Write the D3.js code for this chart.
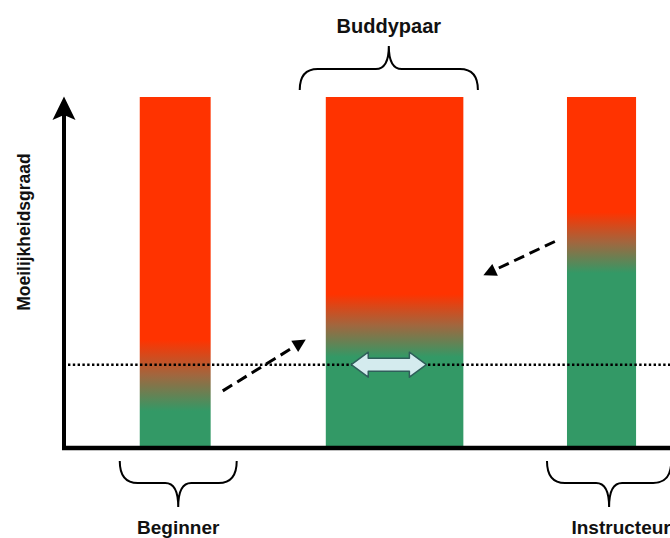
<!DOCTYPE html>
<html>
<head>
<meta charset="utf-8">
<script src="https://cdn.jsdelivr.net/npm/d3@7"></script>
<style>
    body { margin: 0; background: #fff; }
    text { font-family: "Liberation Sans", Arial, sans-serif; font-weight: bold; fill: #111; }
</style>
</head>
<body>
<div id="chart"></div>
<script>
///// DATOS //////
let categories = ['Beginner', 'Buddypaar', 'Instructeur'];
let barStart = [12.5, 43.2, 83.0];    // eje x (0-100)
let barEnd = [24.2, 65.9, 94.4];
let barTop = [100, 100, 100];
let redLevel = [30.5, 43.5, 67.0];    // donde empieza el paso rojo -> verde
let greenLevel = [10.0, 25.5, 49.5];  // donde ya es verde del todo
let lineLevel = 23.3;                 // línea punteada

let braceStart = [9.2, 38.9, 79.7];
let braceEnd = [28.5, 68.3, 100.2];
let braceTop = [false, true, false];

let dashArrows = [
    {x1: 26.2, y1: 15.8, x2: 39.9, y2: 30.5},
    {x1: 81.0, y1: 58.6, x2: 69.2, y2: 48.9}
];
let doubleArrow = {x1: 47.4, x2: 59.8, y: 23.3};

let yLabel = 'Moeilijkheidsgraad';

///// GRÁFICO //////
let W = 670, H = 538;
let red = '#ff3300', green = '#339966';

let svg = d3.select('#chart').append('svg')
    .attr('width', W)
    .attr('height', H);

let x = d3.scaleLinear().domain([0, 100]).range([64, 670]);
let y = d3.scaleLinear().domain([0, 100]).range([446, 97]);

let defs = svg.append('defs');

categories.forEach(function(c, i) {
    let g = defs.append('linearGradient')
        .attr('id', 'grad' + i)
        .attr('gradientUnits', 'userSpaceOnUse')
        .attr('x1', 0).attr('x2', 0)
        .attr('y1', y(redLevel[i]))
        .attr('y2', y(greenLevel[i]));
    g.append('stop').attr('offset', 0).attr('stop-color', red);
    g.append('stop').attr('offset', 0.5).attr('stop-color', '#a0673f');
    g.append('stop').attr('offset', 1).attr('stop-color', green);
});

//Barras
svg.selectAll('rect.bar')
    .data(categories)
    .enter().append('rect')
    .attr('class', 'bar')
    .attr('x', (d, i) => x(barStart[i]))
    .attr('width', (d, i) => x(barEnd[i]) - x(barStart[i]))
    .attr('y', (d, i) => y(barTop[i]))
    .attr('height', (d, i) => y(0) - y(barTop[i]))
    .attr('fill', (d, i) => 'url(#grad' + i + ')');

//Línea punteada
svg.append('line')
    .attr('x1', x(0) + 4).attr('x2', W)
    .attr('y1', y(lineLevel)).attr('y2', y(lineLevel))
    .attr('stroke', '#000')
    .attr('stroke-width', 2.4)
    .attr('stroke-dasharray', '2.4,2.4');

//Ejes
svg.append('line')
    .attr('x1', x(0)).attr('x2', x(0))
    .attr('y1', y(0) + 4).attr('y2', 112)
    .attr('stroke', '#000').attr('stroke-width', 4);
svg.append('line')
    .attr('x1', x(0) - 2).attr('x2', W)
    .attr('y1', y(0) + 2).attr('y2', y(0) + 2)
    .attr('stroke', '#000').attr('stroke-width', 4.5);
svg.append('path')
    .attr('d', 'M' + x(0) + ',96.5 L' + (x(0) + 11.5) + ',120 L' + x(0) + ',115 L' + (x(0) - 11.5) + ',120 Z')
    .attr('fill', '#000');

svg.append('text')
    .attr('transform', 'translate(30,' + y(61.3) + ') rotate(-90)')
    .attr('text-anchor', 'middle')
    .style('font-size', '17.5px')
    .text(yLabel);

//Flechas discontinuas
dashArrows.forEach(function(a) {
    let x1 = x(a.x1), y1 = y(a.y1), x2 = x(a.x2), y2 = y(a.y2);
    let ang = Math.atan2(y2 - y1, x2 - x1);
    let hl = 13, hw = 6.5;
    let bx = x2 - hl * Math.cos(ang), by = y2 - hl * Math.sin(ang);
    svg.append('line')
        .attr('x1', x1).attr('y1', y1)
        .attr('x2', bx).attr('y2', by)
        .attr('stroke', '#000')
        .attr('stroke-width', 3)
        .attr('stroke-dasharray', '11,6');
    let px = -Math.sin(ang), py = Math.cos(ang);
    svg.append('path')
        .attr('d', 'M' + x2 + ',' + y2 +
            ' L' + (bx + px * hw) + ',' + (by + py * hw) +
            ' L' + (bx - px * hw) + ',' + (by - py * hw) + ' Z')
        .attr('fill', '#000');
});

//Flecha doble
(function() {
    let x1 = x(doubleArrow.x1), x2 = x(doubleArrow.x2), yc = y(doubleArrow.y);
    let hl = 17, sh = 6.5, hh = 12.5;
    let d = 'M' + x1 + ',' + yc +
        ' L' + (x1 + hl) + ',' + (yc - hh) +
        ' L' + (x1 + hl) + ',' + (yc - sh) +
        ' L' + (x2 - hl) + ',' + (yc - sh) +
        ' L' + (x2 - hl) + ',' + (yc - hh) +
        ' L' + x2 + ',' + yc +
        ' L' + (x2 - hl) + ',' + (yc + hh) +
        ' L' + (x2 - hl) + ',' + (yc + sh) +
        ' L' + (x1 + hl) + ',' + (yc + sh) +
        ' L' + (x1 + hl) + ',' + (yc + hh) + ' Z';
    svg.append('path')
        .attr('d', d)
        .attr('fill', '#d4ebee')
        .attr('stroke', '#2f5f5a')
        .attr('stroke-width', 1.5)
        .attr('stroke-linejoin', 'round');
})();

//Llaves
function bracePath(x0, x1, yEnd, yMid, yTip) {
    let xc = (x0 + x1) / 2, r = 18, rc = 13;
    return 'M' + x0 + ',' + yEnd +
        ' Q' + x0 + ',' + yMid + ' ' + (x0 + r) + ',' + yMid +
        ' L' + (xc - rc) + ',' + yMid +
        ' Q' + xc + ',' + yMid + ' ' + xc + ',' + yTip +
        ' Q' + xc + ',' + yMid + ' ' + (xc + rc) + ',' + yMid +
        ' L' + (x1 - r) + ',' + yMid +
        ' Q' + x1 + ',' + yMid + ' ' + x1 + ',' + yEnd;
}

categories.forEach(function(c, i) {
    let x0 = x(braceStart[i]), x1 = x(braceEnd[i]);
    let xc = (x0 + x1) / 2;
    if (braceTop[i]) {
        svg.append('path')
            .attr('d', bracePath(x0, x1, 90, 69, 46))
            .attr('fill', 'none').attr('stroke', '#000').attr('stroke-width', 2);
        svg.append('text')
            .attr('x', xc).attr('y', 33)
            .attr('text-anchor', 'middle')
            .style('font-size', '20px')
            .text(c);
    } else {
        svg.append('path')
            .attr('d', bracePath(x0, x1, 461, 483, 507))
            .attr('fill', 'none').attr('stroke', '#000').attr('stroke-width', 2);
        //la etiqueta de la derecha queda algo desplazada y cortada por el borde
        let shift = (i === categories.length - 1) ? 12 : 0;
        svg.append('text')
            .attr('x', xc + shift).attr('y', 534)
            .attr('text-anchor', 'middle')
            .style('font-size', '19px')
            .text(c);
    }
});
</script>
</body>
</html>
